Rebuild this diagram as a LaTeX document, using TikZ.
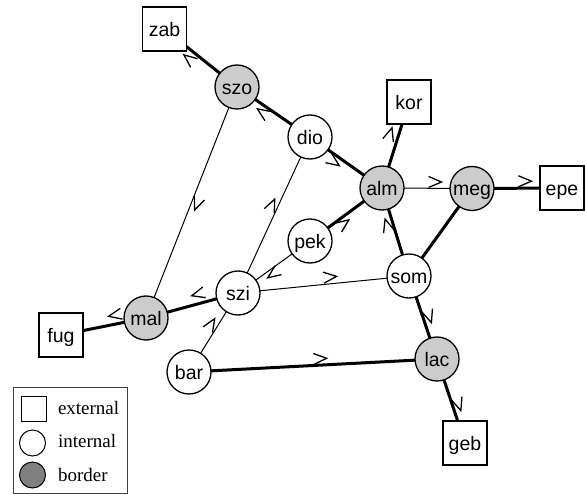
\documentclass[tikz,border=0pt]{standalone}
\usepackage{fontspec}
\setmainfont{Liberation Serif}
\setsansfont{Liberation Sans}
\usetikzlibrary{decorations.markings,backgrounds}
\definecolor{bordfill}{gray}{0.8}
\definecolor{legfill}{gray}{0.5}
\tikzset{
  every node/.style={inner sep=0pt, outer sep=0pt},
  lbl/.style={font=\sffamily\fontsize{19.5bp}{22bp}\selectfont, text height=15bp, text depth=0bp},
  ext/.style={lbl, draw, line width=1.3bp, fill=white, rectangle, minimum size=44bp},
  int/.style={lbl, draw, line width=1.3bp, fill=white, circle, minimum size=44bp},
  bdr/.style={int, fill=bordfill},
  heavy/.style={line width=3bp},
  light/.style={line width=1bp},
  chev/.style 2 args={postaction={decorate}, decoration={markings,
     mark=at position #1 with {\draw[line width=1.3bp, solid] (-6.5bp,#2+5.5bp) -- (6.5bp,#2) -- (-6.5bp,#2-5.5bp);}}},
  legtxt/.style={font=\rmfamily\fontsize{19bp}{22bp}\selectfont, anchor=base west},
}
\begin{document}
\begin{tikzpicture}[x=1bp, y=-1bp]
\useasboundingbox (0,0) rectangle (585,495);
% nodes
\node[ext] (zab) at (164.5,29) {zab};
\node[bdr] (szo) at (237,87) {szo};
\node[int] (dio) at (310,137) {dio};
\node[ext] (kor) at (409,102) {kor};
\node[bdr] (alm) at (382,188) {alm};
\node[bdr] (meg) at (472,188.5) {meg};
\node[ext] (epe) at (562,188) {epe};
\node[int] (pek) at (310,241) {pek};
\node[int] (som) at (409,276) {som};
\node[int] (szi) at (238,293) {szi};
\node[bdr] (mal) at (146,318) {mal};
\node[ext] (fug) at (61,335) {fug};
\node[int] (bar) at (189,372) {bar};
\node[bdr] (lac) at (437,359) {lac};
\node[ext] (geb) at (465,443) {geb};
% edges
\begin{scope}[on background layer]
\draw[heavy, chev={33bp}{8.1bp}] (szo) -- (zab);
\draw[heavy, chev={30.9bp}{6.5bp}] (dio) -- (szo);
\draw[heavy, chev={12bp}{-6.5bp}] (dio) -- (alm);
\draw[heavy, chev={31.9bp}{8.5bp}] (alm) -- (kor);
\draw[light, chev={31bp}{6.3bp}] (alm) -- (meg);
\draw[heavy, chev={31bp}{7bp}] (meg) -- (epe);
\draw[heavy, chev={15.3bp}{-6bp}] (pek) -- (alm);
\draw[light, chev={72.1bp}{6bp}] (szi) -- (dio);
\draw[light, chev={101.5bp}{5.7bp}] (szo) -- (mal);
\draw[heavy, chev={32.9bp}{6.2bp}] (som) -- (alm);
\draw[light, chev={27.3bp}{5.1bp}] (pek) -- (szi);
\draw[light, chev={71.2bp}{6.8bp}] (szi) -- (som);
\draw[heavy, chev={16.9bp}{-9.5bp}] (szi) -- (mal);
\draw[heavy, chev={7.8bp}{-9bp}] (mal) -- (fug);
\draw[light, chev={30.4bp}{6.3bp}] (bar) -- (szi);
\draw[heavy, chev={109.6bp}{6.5bp}] (bar) -- (lac);
\draw[heavy, chev={22.9bp}{6.3bp}] (som) -- (lac);
\draw[heavy, chev={28bp}{6.3bp}] (lac) -- (geb);
\draw[heavy] (som) -- (meg);
\end{scope}
% legend
\node[draw=black!75, line width=0.9bp, minimum width=114bp, minimum height=106bp, anchor=north west] (legend) at (13.5,387.5) {};
\node[draw, line width=1bp, minimum size=25bp] (lsq) at (33.5,408.5) {};
\node[draw, line width=1bp, circle, minimum size=26bp] (lint) at (32.5,443) {};
\node[draw, line width=1bp, circle, minimum size=26bp, fill=legfill] (lbdr) at (32.5,475) {};
\node[legtxt] (text1) at (58,414) {external};
\node[legtxt] (text2) at (58,447) {internal};
\node[legtxt] (text3) at (58,481) {border};
\end{tikzpicture}
\end{document}
